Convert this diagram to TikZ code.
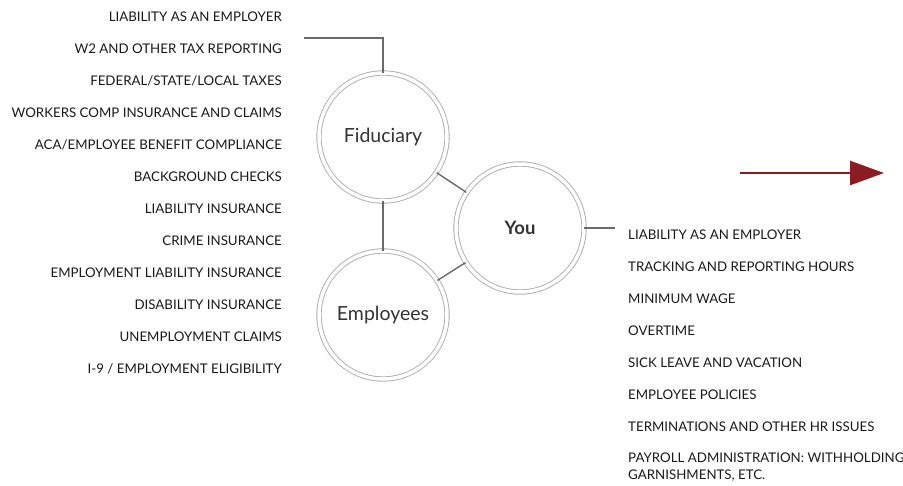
\documentclass[tikz,border=0pt]{standalone}
\usepackage{fontspec}
\setmainfont{Lato}
\usetikzlibrary{arrows.meta}
\definecolor{ringgray}{HTML}{ADADAD}
\definecolor{linegray}{HTML}{6A6A6A}
\definecolor{arrowred}{HTML}{8A1C22}

\begin{document}
\begin{tikzpicture}[x=1pt, y=-1pt,
    item/.style={inner sep=0pt, font=\fontsize{13.3}{17}\selectfont, text=black!90},
    ring/.style={circle, draw=ringgray, line width=0.9pt, double=white, double distance=3.5pt, minimum size=128pt, inner sep=0pt, text=black!80},
    link/.style={draw=linegray, line width=1.4pt}]
    \useasboundingbox (0,0) rectangle (903,485);

    % the three circles
    \node [ring, font=\fontsize{19.5}{22}\selectfont] (fid) at (383,137) {Fiduciary};
    \node [ring, font=\fontsize{19.5}{22}\selectfont] (emp) at (383,315) {Employees};
    \node [ring, font=\bfseries\fontsize{18.5}{22}\selectfont] (you) at (520,228) {You};

    \draw [link] (fid) -- (emp);
    \draw [link] (fid) -- (you);
    \draw [link] (emp) -- (you);

    % bracket to the left list
    \coordinate (lbr) at (304,38);
    \draw [link] (lbr) -| (fid.north);

    % lead to the right list
    \coordinate (rbr) at (615,228);
    \draw [link] (you.east) -- (rbr);

    % left list
    \foreach \t [count=\i] in {LIABILITY AS AN EMPLOYER, W2 AND OTHER TAX REPORTING,
        FEDERAL/STATE/LOCAL TAXES, WORKERS COMP INSURANCE AND CLAIMS,
        ACA/EMPLOYEE BENEFIT COMPLIANCE, BACKGROUND CHECKS, LIABILITY INSURANCE,
        CRIME INSURANCE, EMPLOYMENT LIABILITY INSURANCE, DISABILITY INSURANCE,
        UNEMPLOYMENT CLAIMS, I-9 / EMPLOYMENT ELIGIBILITY}{
        \node [item, anchor=east] (l\i) at (282, {17+32*(\i-1)}) {\t};
    }

    % right list
    \foreach \t [count=\i] in {LIABILITY AS AN EMPLOYER, TRACKING AND REPORTING HOURS,
        MINIMUM WAGE, OVERTIME, SICK LEAVE AND VACATION, EMPLOYEE POLICIES,
        TERMINATIONS AND OTHER HR ISSUES}{
        \node [item, anchor=west] (r\i) at (628, {235+32*(\i-1)}) {\t};
    }
    \node [item, anchor=north west, align=left] (r8) at (628,453) {PAYROLL ADMINISTRATION: WITHHOLDING\\GARNISHMENTS, ETC.};

    % red arrow
    \coordinate (a1) at (740,173);
    \coordinate (a2) at (884,173);
    \draw [arrowred, line width=2.6pt, -{Triangle[length=34pt, width=24pt]}] (a1) -- (a2);
\end{tikzpicture}
\end{document}
